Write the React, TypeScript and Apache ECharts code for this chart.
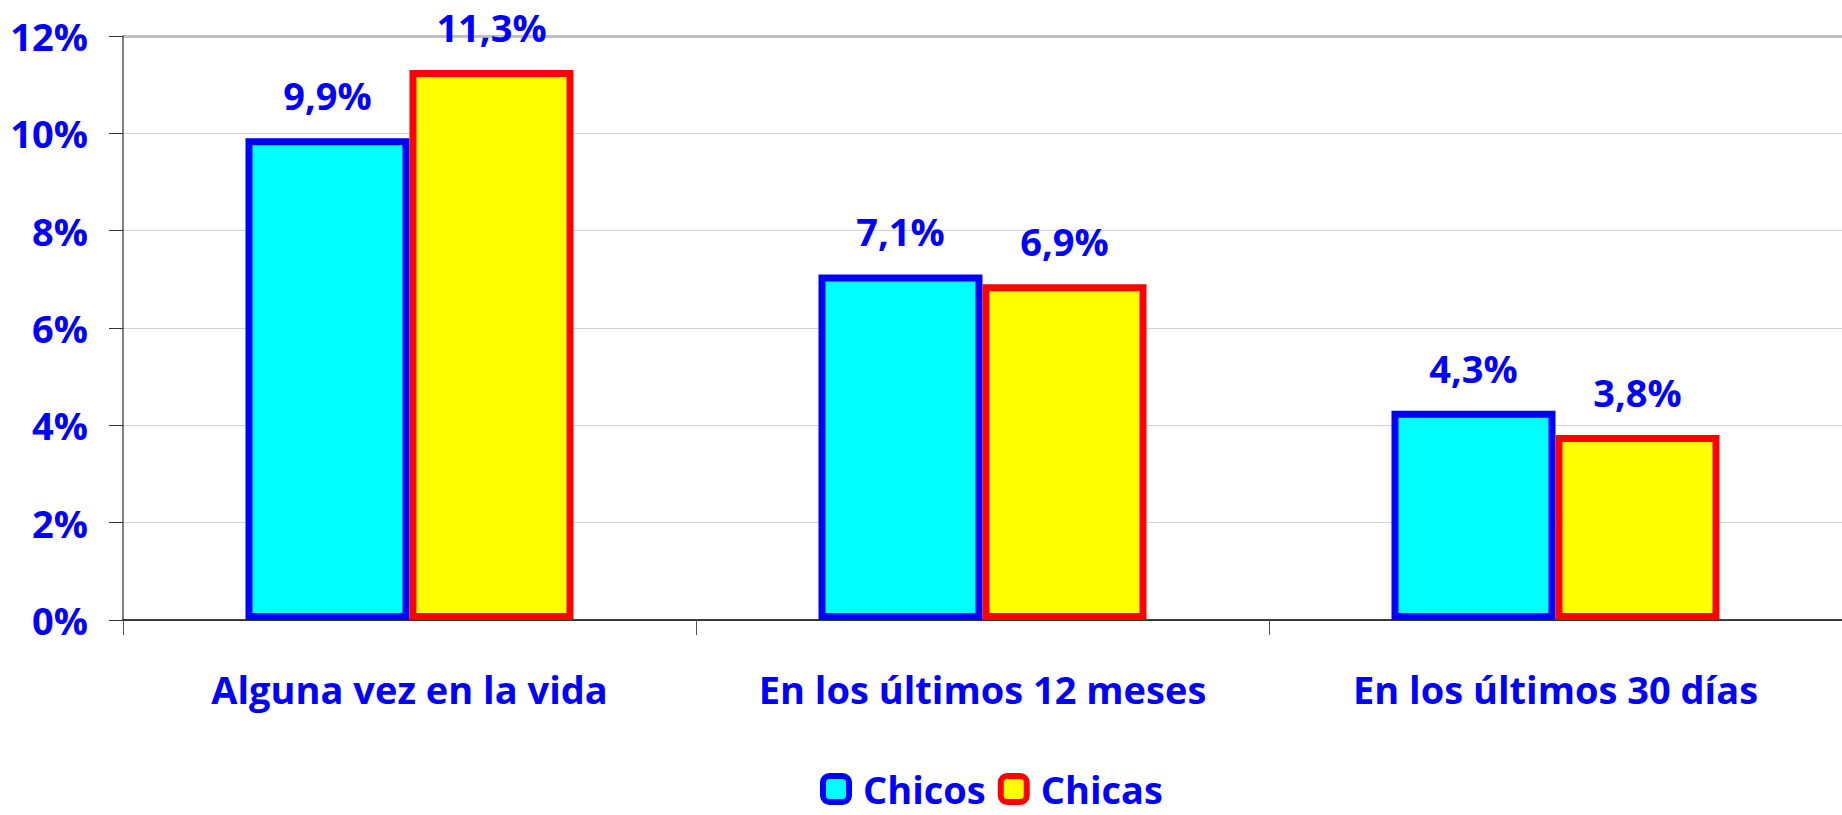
import React, { useEffect, useRef } from "react";
import * as echarts from "echarts";

const categories = ["Alguna vez en la vida", "En los últimos 12 meses", "En los últimos 30 días"];
const chicos = [9.9, 7.1, 4.3];
const chicas = [11.3, 6.9, 3.8];
const seriesNames = ["Chicos", "Chicas"];
const yMax = 12;

const BLUE = "#0000FF";
const FONT = "'Open Sans'";
const FS = 38;

const fmt = (v: number) => v.toFixed(1).replace(".", ",") + "%";

export default function App() {
  const ref = useRef<HTMLDivElement>(null);
  useEffect(() => {
    const chart = echarts.init(ref.current!, undefined, { renderer: "svg" });
    const labelStyle = {
      show: true,
      position: "top" as const,
      distance: 24,
      color: BLUE,
      fontFamily: FONT,
      fontWeight: "bold" as const,
      fontSize: FS,
      formatter: (p: any) => fmt(p.value),
    };
    chart.setOption({
      animation: false,
      backgroundColor: "#ffffff",
      grid: { left: 123, right: 0, top: 36, bottom: 195, containLabel: false },
      legend: {
        data: seriesNames,
        top: 770,
        left: 820,
        padding: 0,
        itemWidth: 26,
        itemHeight: 26,
        itemGap: 12,
        icon: "roundRect",
        itemStyle: { borderWidth: 6 },
        textStyle: {
          color: BLUE,
          fontFamily: FONT,
          fontWeight: "bold",
          fontSize: FS,
          lineHeight: 38,
          padding: [0, 0, 0, 9],
        },
      },
      xAxis: {
        type: "category",
        data: categories,
        axisLine: { lineStyle: { color: "#000000", width: 1.5 } },
        axisTick: { show: true, length: 15, lineStyle: { color: "#555555" } },
        axisLabel: {
          interval: 0,
          hideOverlap: false,
          color: BLUE,
          fontFamily: FONT,
          fontWeight: "bold",
          fontSize: FS,
          margin: 50,
        },
      },
      yAxis: {
        type: "value",
        min: 0,
        max: yMax,
        interval: 2,
        axisLine: { show: true, lineStyle: { color: "#555555", width: 1.5 } },
        axisTick: { show: true, length: 14, lineStyle: { color: "#333333" } },
        splitLine: { lineStyle: { color: "#d0d0d0", width: 1 } },
        axisLabel: {
          color: BLUE,
          fontFamily: FONT,
          fontWeight: "bold",
          fontSize: FS,
          margin: 35,
          formatter: (v: number) => v + "%",
        },
      },
      series: [
        {
          name: seriesNames[0],
          type: "bar",
          data: chicos,
          barWidth: 164,
          barGap: "0%",
          itemStyle: { color: "#00FFFF", borderColor: BLUE, borderWidth: 7 },
          label: labelStyle,
          markLine: {
            z: 0,
            silent: true,
            symbol: "none",
            label: { show: false },
            lineStyle: { color: "#c0c0c0", width: 3, type: "solid" },
            data: [{ yAxis: yMax }],
          },
        },
        {
          name: seriesNames[1],
          type: "bar",
          data: chicas,
          barWidth: 164,
          barGap: "0%",
          itemStyle: { color: "#FFFF00", borderColor: "#FF0000", borderWidth: 7 },
          label: labelStyle,
        },
      ],
    });
    return () => chart.dispose();
  }, []);
  return (
    <div
      ref={ref}
      style={{ position: "fixed", left: 0, top: 0, width: 1842, height: 815 }}
    />
  );
}
